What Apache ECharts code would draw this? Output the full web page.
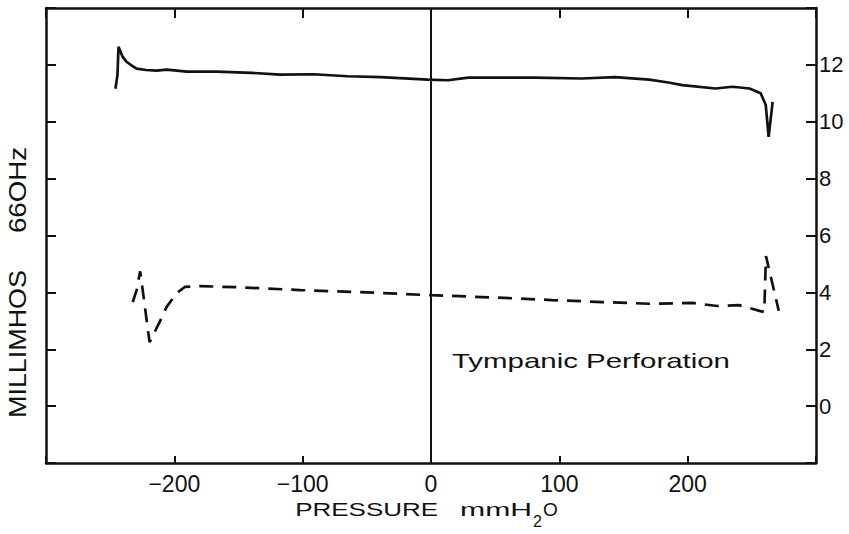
<!DOCTYPE html>
<html><head><meta charset="utf-8">
<script src="https://cdn.jsdelivr.net/npm/echarts@6/dist/echarts.min.js"></script>
<style>html,body{margin:0;padding:0;background:#fff}#c{width:849px;height:534px}#c text{white-space:pre}</style>
</head><body><div id="c"></div>
<script>
// Solid trace (pressure mmH2O, millimhos)
const solidPressure = [-245.9, -244.3, -243.5, -240.5, -237.3, -233, -229.4, -222, -213.8, -206, -190.3, -166.8, -140, -117.5, -91.6, -65, -39.2, -2.3, 13.3, 29, 80.7, 117.5, 143.3, 170, 185, 195.8, 221.6, 234.9, 248.2, 256.9, 260.8, 263.1, 266.2];
const solidAdmittance = [11.16, 11.65, 12.64, 12.3, 12.11, 11.97, 11.87, 11.82, 11.80, 11.83, 11.76, 11.76, 11.72, 11.66, 11.67, 11.60, 11.57, 11.48, 11.46, 11.55, 11.55, 11.52, 11.57, 11.48, 11.38, 11.29, 11.17, 11.23, 11.17, 11.0, 10.6, 9.47, 10.70];
// Dashed trace
const dashPressure = [-232.4, -229.4, -226.6, -219.3, -211.4, -206, -198, -191.9, -180, -150, -101.8, -50, 0, 50, 94, 133, 170, 203.6, 223, 240, 256, 259.7, 261, 271];
const dashAdmittance = [3.66, 4.08, 4.74, 2.25, 2.96, 3.49, 3.98, 4.19, 4.22, 4.18, 4.08, 4.0, 3.9, 3.82, 3.73, 3.66, 3.6, 3.63, 3.52, 3.55, 3.35, 3.31, 5.28, 3.35];
// Axes
const xTickLabels = [-200, -100, 0, 100, 200];
const yTickLabels = [0, 2, 4, 6, 8, 10, 12];
const xRange = [-300, 300];
const yRange = [-2, 14];
const noteText = 'Tympanic Perforation';

const ink = '#111';
const font = '"Liberation Sans", Arial, Helvetica, sans-serif';
function axisBase(tickLen) {
  return {
    axisLine: { show: true, onZero: false, lineStyle: { color: ink, width: 2.5 } },
    axisTick: { show: true, inside: true, length: tickLen, lineStyle: { color: ink, width: 2 } },
    splitLine: { show: false }
  };
}
const option = {
  animation: false, backgroundColor: '#fff',
  grid: { left: 46, right: 33, top: 8, bottom: 71, containLabel: false, outerBoundsMode: 'none' },
  xAxis: [
    Object.assign({
      type: 'value', position: 'bottom', min: xRange[0], max: xRange[1], interval: 100,
      axisLabel: { margin: 9, fontSize: 23, fontFamily: font, color: ink,
        formatter: v => xTickLabels.includes(v) ? String(v).replace('-', '\u2212') : '' },
      name: '{p|PRESSURE}{m|mmH}{s|2}{o|O}', nameLocation: 'middle', nameGap: 26,
      nameTextStyle: { color: ink, fontFamily: font, padding: [0, 9, 0, 0], rich: {
          p: { fontSize: 19, fontFamily: font, color: ink, width: 165, lineHeight: 40, verticalAlign: 'middle', align: 'left' },
          m: { fontSize: 19, fontFamily: font, color: ink, width: 73, lineHeight: 40, verticalAlign: 'middle', align: 'left' },
          s: { fontSize: 16, fontFamily: font, color: ink, width: 10, lineHeight: 16, verticalAlign: 'bottom', align: 'left' },
          o: { fontSize: 19, fontFamily: font, color: ink, lineHeight: 40, verticalAlign: 'middle', align: 'left' } } }
    }, axisBase(7)),
    Object.assign({ type: 'value', position: 'top', min: xRange[0], max: xRange[1], interval: 100, axisLabel: { show: false } }, axisBase(10))
  ],
  yAxis: [
    Object.assign({
      type: 'value', position: 'left', min: yRange[0], max: yRange[1], interval: 2, axisLabel: { show: false },
      name: '{a|MILLIMHOS}{b|66OHz}', nameLocation: 'middle', nameRotate: 90, nameGap: 16.5,
      nameTextStyle: { color: ink, fontFamily: font, padding: [0, 94, 0, 0], rich: {
          a: { fontSize: 24, fontFamily: font, color: ink, width: 185, align: 'left' },
          b: { fontSize: 24, fontFamily: font, color: ink, width: 86, align: 'left' } } }
    }, axisBase(10)),
    Object.assign({
      type: 'value', position: 'right', min: yRange[0], max: yRange[1], interval: 2,
      axisLabel: { margin: 3, fontSize: 22, fontFamily: font, color: ink, formatter: v => yTickLabels.includes(v) ? String(v) : '' }
    }, axisBase(10))
  ],
  graphic: [{ type: 'text', z: 10, style: { text: noteText, x: 452, y: 360, align: 'left', verticalAlign: 'middle', font: '21px ' + font, fill: ink } }],
  series: [
    { type: 'line', name: 'Admittance', symbol: 'none', lineStyle: { color: ink, width: 2.7 },
      data: solidPressure.map((x, i) => [x, solidAdmittance[i]]),
      markLine: { silent: true, symbol: ['none', 'none'], label: { show: false }, lineStyle: { color: ink, width: 2, type: 'solid' }, data: [{ xAxis: 0 }] } },
    { type: 'line', name: 'Dashed', symbol: 'none', lineStyle: { color: ink, width: 2.7, type: [14, 9] },
      data: dashPressure.map((x, i) => [x, dashAdmittance[i]]) }
  ]
};
const dom = document.getElementById('c');
const chart = echarts.init(dom, null, { renderer: 'svg' });
chart.setOption(option);
const stretchMap = { 'PRESSURE': 143, 'mmH': 72, 'MILLIMHOS': 148, '66OHz': 86, 'Tympanic Perforation': 278 };
function stretch() {
  dom.querySelectorAll('text').forEach(t => {
    const s = t.textContent;
    if (stretchMap[s]) { t.setAttribute('textLength', stretchMap[s]); t.setAttribute('lengthAdjust', 'spacingAndGlyphs'); }
  });
}
stretch();
chart.on('finished', stretch);
</script>
</body></html>
